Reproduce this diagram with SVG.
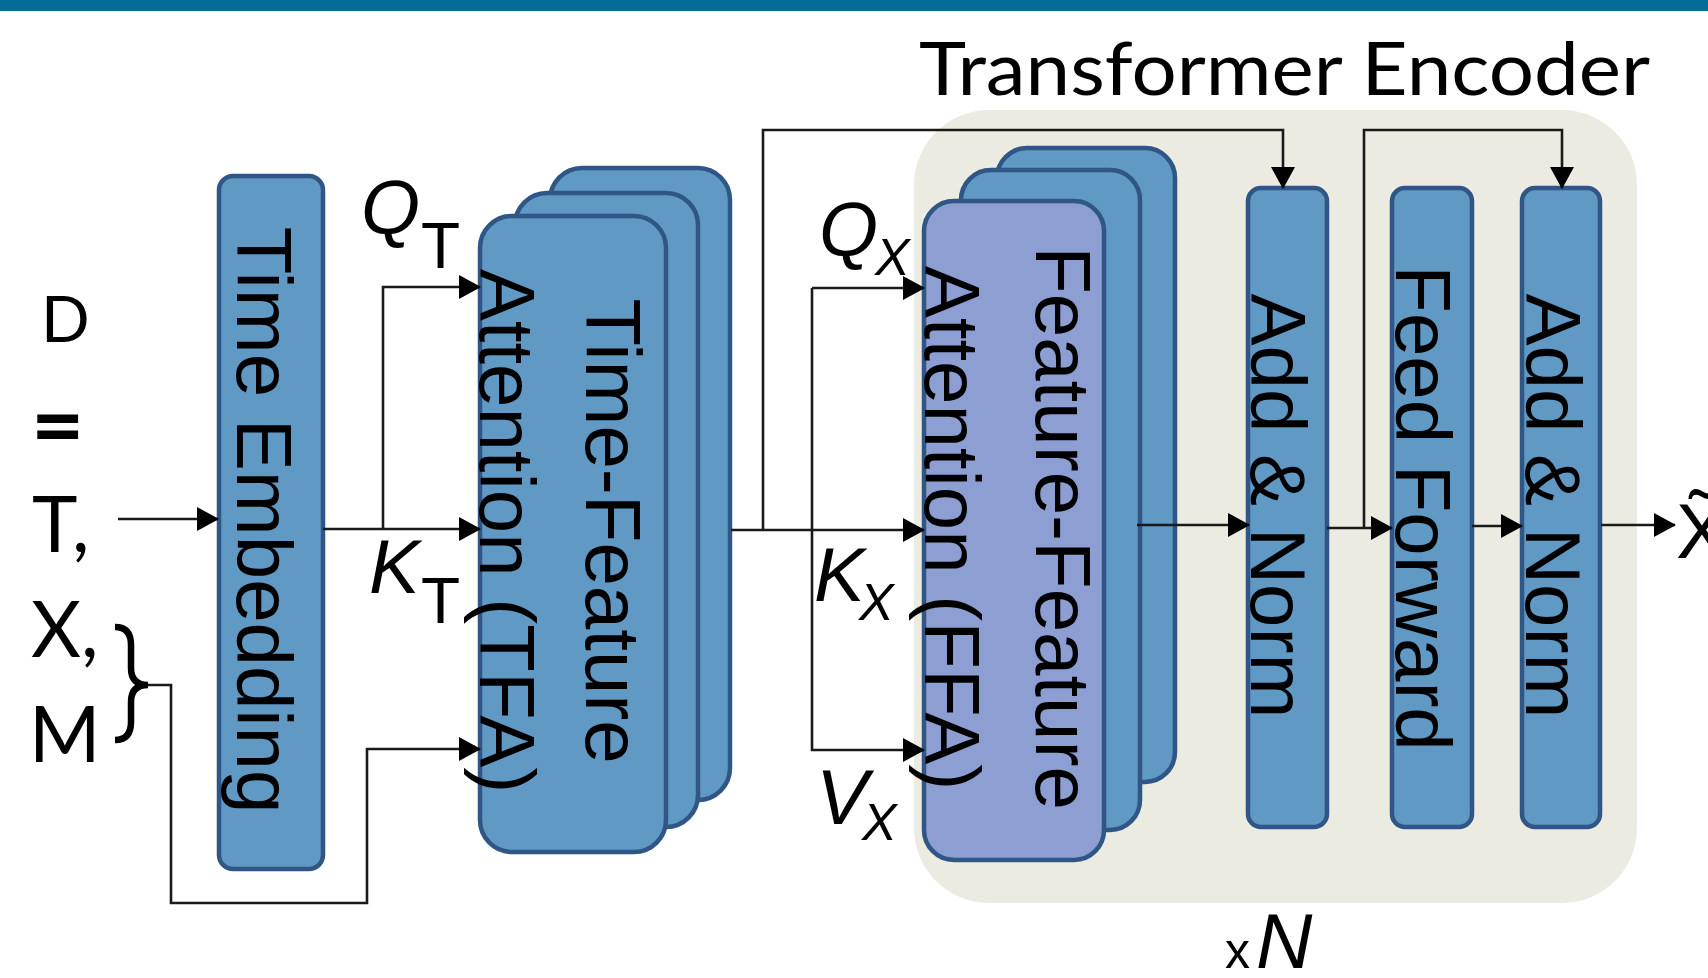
<svg xmlns="http://www.w3.org/2000/svg" width="1708" height="978" viewBox="0 0 1708 978">
<style>
.box{fill:#6099c4;stroke:#2f5685;stroke-width:4.5}
.ffa{fill:#8d9ed2}
.bt{font-family:"Liberation Sans",Arial,sans-serif;font-size:78px;fill:#000;text-anchor:middle}
.lab{font-family:"Liberation Sans",Arial,sans-serif;fill:#000}
.cal{font-family:Lato,"Open Sans","Liberation Sans",sans-serif;fill:#000}
.it{font-style:italic}
.conn path{fill:none;stroke:#1a1a1a;stroke-width:2.6}
.arr{marker-end:url(#ah)}
</style>
<defs>
<marker id="ah" markerUnits="userSpaceOnUse" markerWidth="22" markerHeight="24" viewBox="0 0 22 24" refX="21" refY="12" orient="auto">
<path d="M0,0 L22,12 L0,24 Z" fill="#000"/>
</marker>
</defs>
<rect x="0" y="0" width="1708" height="978" fill="#ffffff"/>
<rect x="0" y="0" width="1708" height="11" fill="#046c96"/>

<g id="encoder-bg">
<rect x="914" y="110" width="723" height="793" rx="75" ry="75" fill="#ecebe2"/>
<text class="cal" x="919" y="95" font-size="74" textLength="731" lengthAdjust="spacingAndGlyphs">Transformer Encoder</text>
<text class="lab" x="1225" y="968" font-size="50">x</text>
<text class="lab it" x="1256" y="968" font-size="78">N</text>
</g>

<g id="input-label">
<text class="cal" x="41" y="342" font-size="64">D</text>
<text class="cal" x="31" y="458" font-size="92" font-weight="bold">=</text>
<text class="cal" x="32" y="552" font-size="77">T,</text>
<text class="cal" x="31" y="657" font-size="77">X,</text>
<text class="cal" x="29" y="762" font-size="77">M</text>
<path d="M115 627 Q131 627 131 645 L131 668 Q131 685 148 685 Q131 685 131 702 L131 722 Q131 740 115 740" fill="none" stroke="#000" stroke-width="6.5"/>
</g>

<g id="time-embedding">
<rect class="box" x="219" y="176" width="104" height="693" rx="14"/>
<text class="bt" font-size="79" transform="translate(237,520) rotate(90)">Time Embedding</text>
</g>

<g id="tfa">
<rect class="box" x="550" y="168" width="180" height="632" rx="32"/>
<rect class="box" x="515" y="193" width="183" height="634" rx="32"/>
<rect class="box" x="480" y="216" width="186" height="636" rx="32"/>
<text class="bt" transform="translate(586,531) rotate(90)"><tspan x="0" y="0">Time-Feature</tspan><tspan x="0" y="106">Attention (TFA)</tspan></text>
</g>

<g id="ffa">
<rect class="box" x="997" y="148" width="178" height="634" rx="30"/>
<rect class="box" x="961" y="170" width="179" height="660" rx="30"/>
<rect class="box ffa" x="924" y="201" width="180" height="659" rx="30"/>
<text class="bt" transform="translate(1036,528) rotate(90)"><tspan x="0" y="0">Feature-Feature</tspan><tspan x="0" y="111">Attention (FFA)</tspan></text>
</g>

<g id="add-norm-1">
<rect class="box" x="1248" y="188" width="79" height="639" rx="13"/>
<text class="bt" transform="translate(1251,506) rotate(90)">Add &amp; Norm</text>
</g>

<g id="feed-forward">
<rect class="box" x="1392" y="188" width="80" height="639" rx="13"/>
<text class="bt" transform="translate(1396,508) rotate(90)">Feed Forward</text>
</g>

<g id="add-norm-2">
<rect class="box" x="1522" y="188" width="78" height="639" rx="13"/>
<text class="bt" transform="translate(1526,506) rotate(90)">Add &amp; Norm</text>
</g>

<g id="labels">
<text class="lab it" x="361" y="234" font-size="76">Q</text>
<text class="lab" x="421" y="268" font-size="64">T</text>
<text class="lab it" x="369" y="593" font-size="76">K</text>
<text class="lab" x="421" y="623" font-size="64">T</text>
<text class="lab it" x="819" y="256" font-size="76">Q</text>
<text class="lab it" x="875" y="275" font-size="52">X</text>
<text class="lab it" x="814" y="601" font-size="76">K</text>
<text class="lab it" x="859" y="620" font-size="52">X</text>
<text class="lab it" x="816" y="824" font-size="78">V</text>
<text class="lab it" x="862" y="840" font-size="52">X</text>
<text class="lab" x="1676" y="558" font-size="77">X̃</text>
</g>

<g id="connectors" class="conn">
<path class="arr" d="M118 519 H218"/>
<path class="arr" d="M323 529 H480"/>
<path class="arr" d="M383 529 V287 H480"/>
<path class="arr" d="M148 685 H171 V903 H367 V749 H480"/>
<path class="arr" d="M731 530 H924"/>
<path class="arr" d="M763 530 V130 H1283 V188"/>
<path class="arr" d="M812 288 H924"/>
<path class="arr" d="M812 288 V750 H924"/>
<path class="arr" d="M1137 525 H1249"/>
<path class="arr" d="M1327 528 H1392"/>
<path class="arr" d="M1364 528 V130 H1562 V188"/>
<path class="arr" d="M1472 526 H1522"/>
<path class="arr" d="M1601 525 H1675"/>
</g>
</svg>
